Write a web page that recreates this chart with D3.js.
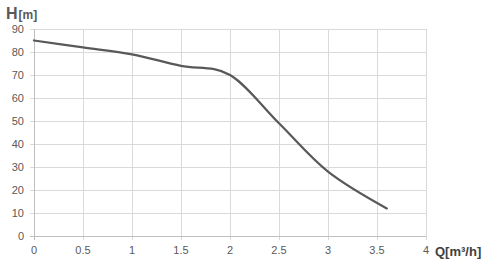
<!DOCTYPE html>
<html>
<head>
<meta charset="utf-8">
<script src="https://cdn.jsdelivr.net/npm/d3@7"></script>
<style>
  body { margin: 0; background: #fff; }
  text { font-family: "Liberation Sans", Arial, sans-serif; }
</style>
</head>
<body>
<div id="chart"></div>
<script>
// pump curve: flow Q [m3/h] vs head H [m]
const flowQ = [0, 0.5, 1, 1.5, 2, 2.5, 3, 3.6];
const headH = [85, 82, 79, 74, 70, 49, 28, 12];
const xTicks = [0, 0.5, 1, 1.5, 2, 2.5, 3, 3.5, 4];
const yTicks = [0, 10, 20, 30, 40, 50, 60, 70, 80, 90];

const width = 490, height = 264;
const margin = {top: 29, right: 64, bottom: 28, left: 34};

let svg = d3.select("#chart")
    .append("svg")
    .attr("width", width)
    .attr("height", height);

let x = d3.scaleLinear()
    .domain([0, 4])
    .range([margin.left, width - margin.right]);

let y = d3.scaleLinear()
    .domain([0, 90])
    .range([height - margin.bottom, margin.top]);

// grid
svg.append("g")
    .selectAll("line")
    .data(yTicks)
    .join("line")
    .attr("x1", margin.left - 4)
    .attr("x2", x(4))
    .attr("y1", d => Math.round(y(d)) + 0.5)
    .attr("y2", d => Math.round(y(d)) + 0.5)
    .attr("stroke", "#d9d9d9");

svg.append("g")
    .selectAll("line")
    .data(xTicks)
    .join("line")
    .attr("x1", d => Math.round(x(d)) + 0.5)
    .attr("x2", d => Math.round(x(d)) + 0.5)
    .attr("y1", y(90))
    .attr("y2", y(0) + 4)
    .attr("stroke", "#d9d9d9");

// axis lines
svg.append("line")
    .attr("x1", Math.round(x(0)) + 0.5).attr("x2", Math.round(x(0)) + 0.5)
    .attr("y1", y(90)).attr("y2", y(0) + 4)
    .attr("stroke", "#bfbfbf");
svg.append("line")
    .attr("x1", x(0) - 4).attr("x2", x(4))
    .attr("y1", Math.round(y(0)) + 0.5).attr("y2", Math.round(y(0)) + 0.5)
    .attr("stroke", "#bfbfbf");

// tick labels
svg.append("g")
    .selectAll("text")
    .data(yTicks)
    .join("text")
    .attr("x", 24)
    .attr("y", d => y(d) + 4)
    .attr("text-anchor", "end")
    .style("font-size", "11px")
    .attr("fill", "#595959")
    .text(d => d);

svg.append("g")
    .selectAll("text")
    .data(xTicks)
    .join("text")
    .attr("x", d => x(d))
    .attr("y", 254)
    .attr("text-anchor", "middle")
    .style("font-size", "11px")
    .attr("fill", "#595959")
    .text(d => d);

// axis titles
let hTitle = svg.append("text")
    .attr("x", 6)
    .attr("y", 19)
    .attr("fill", "#595959")
    .style("font-weight", "bold");
hTitle.append("tspan").style("font-size", "16px").text("H");
hTitle.append("tspan").attr("dx", 1).style("font-size", "12px").text("[m]");

svg.append("text")
    .attr("x", 435)
    .attr("y", 256)
    .attr("fill", "#404040")
    .style("font-weight", "bold")
    .style("font-size", "13px")
    .text("Q[m³/h]");

// curve
let line = d3.line()
    .x(d => x(d[0]))
    .y(d => y(d[1]))
    .curve(d3.curveCardinal.tension(0));

svg.append("path")
    .datum(flowQ.map((q, i) => [q, headH[i]]))
    .attr("d", line)
    .attr("fill", "none")
    .attr("stroke", "#595959")
    .attr("stroke-width", 2.25)
    .attr("stroke-linecap", "round");
</script>
</body>
</html>
